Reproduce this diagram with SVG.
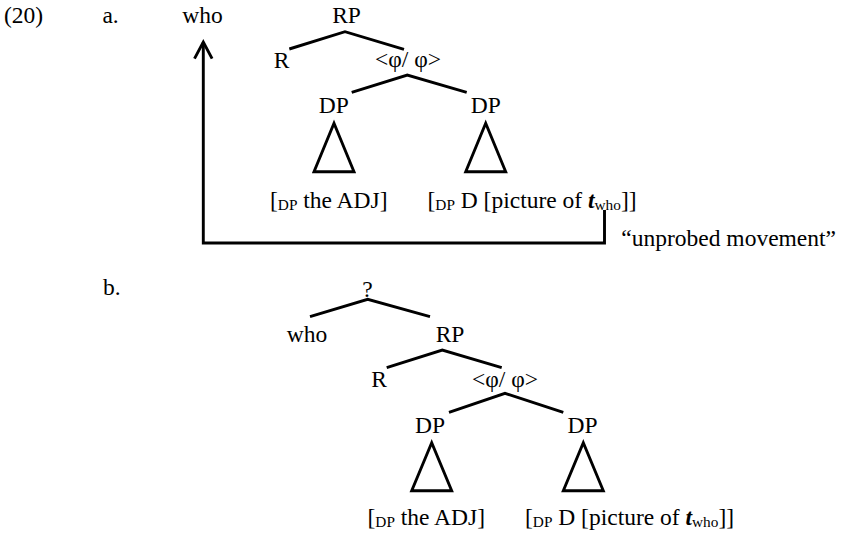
<svg xmlns="http://www.w3.org/2000/svg" width="843" height="534" viewBox="0 0 843 534">
<style>
text{font-family:"Liberation Serif","Times New Roman",serif;font-size:23.5px;fill:#000;white-space:pre}
.m{text-anchor:middle}
.sub{font-size:15.3px}
.bi{font-weight:bold;font-style:italic}
.ln{fill:none;stroke:#000;stroke-width:2.9;stroke-linejoin:miter}
.tri{fill:none;stroke:#000;stroke-width:2.9;stroke-linejoin:miter}
</style>
<defs>
<marker id="openArrow" markerUnits="userSpaceOnUse" viewBox="-20 -12 24 24" markerWidth="24" markerHeight="24" refX="0" refY="0" orient="auto" overflow="visible">
<polyline points="-16.6,-8.8 0,0 -16.6,8.8" fill="none" stroke="#000" stroke-width="2.9"/>
</marker>
</defs>
<rect width="843" height="534" fill="#fff"/>
<g id="labels">
<text x="4" y="23">(20)</text>
<text x="102.4" y="23">a.</text>
<text x="103" y="295">b.</text>
</g>
<g id="connectors">
<polyline class="ln" points="289.3,49 345,31.7 404,49.3"/>
<polyline class="ln" points="351.7,92.3 407.3,75 466.7,92.3"/>
<polyline class="ln" points="310,316.7 367.7,299.3 430,316.7"/>
<polyline class="ln" points="386.7,367.7 442.3,350 501.7,367.7"/>
<polyline class="ln" points="449,412.3 505,393.3 563.3,412.3"/>
<path id="movement" class="ln" d="M604.5,210 V243 H203.3 V42" marker-end="url(#openArrow)"/>
</g>
<g id="tree-a">
<g id="a-who"><text class="m" x="202.5" y="23">who</text></g>
<g id="a-RP"><text class="m" x="346.5" y="23">RP</text></g>
<g id="a-R"><text class="m" x="281.7" y="68">R</text></g>
<g id="a-phi"><text class="m" x="408" y="67">&lt;φ/ φ&gt;</text></g>
<g id="a-DP1"><text class="m" x="333.7" y="113">DP</text><polygon class="tri" points="334,123.3 314,171.7 354,171.7"/></g>
<g id="a-DP2"><text class="m" x="485.8" y="113">DP</text><polygon class="tri" points="485.7,123.3 465.7,171.7 505.7,171.7"/></g>
<g id="a-leaf1"><text x="270" y="208">[<tspan class="sub" dy="2">DP</tspan><tspan dy="-2"> the ADJ]</tspan></text></g>
<g id="a-leaf2"><text x="427.5" y="208">[<tspan class="sub" dy="2">DP</tspan><tspan dy="-2"> D [picture of </tspan><tspan class="bi">t</tspan><tspan class="sub" dy="2">who</tspan><tspan dy="-2">]]</tspan></text></g>
<g id="a-note"><text x="621.3" y="246">“unprobed movement”</text></g>
</g>
<g id="tree-b">
<g id="b-q"><text class="m" x="367.5" y="296.7">?</text></g>
<g id="b-who"><text class="m" x="307" y="341.7">who</text></g>
<g id="b-RP"><text class="m" x="450" y="341.7">RP</text></g>
<g id="b-R"><text class="m" x="379.2" y="386.7">R</text></g>
<g id="b-phi"><text class="m" x="505" y="386.7">&lt;φ/ φ&gt;</text></g>
<g id="b-DP1"><text class="m" x="430" y="433.3">DP</text><polygon class="tri" points="431.7,442.7 411.7,490.7 451.7,490.7"/></g>
<g id="b-DP2"><text class="m" x="582.5" y="433.3">DP</text><polygon class="tri" points="583.3,442.7 563.3,490.7 603.3,490.7"/></g>
<g id="b-leaf1"><text x="367.5" y="525">[<tspan class="sub" dy="2">DP</tspan><tspan dy="-2"> the ADJ]</tspan></text></g>
<g id="b-leaf2"><text x="525" y="525">[<tspan class="sub" dy="2">DP</tspan><tspan dy="-2"> D [picture of </tspan><tspan class="bi">t</tspan><tspan class="sub" dy="2">who</tspan><tspan dy="-2">]]</tspan></text></g>
</g>
</svg>
